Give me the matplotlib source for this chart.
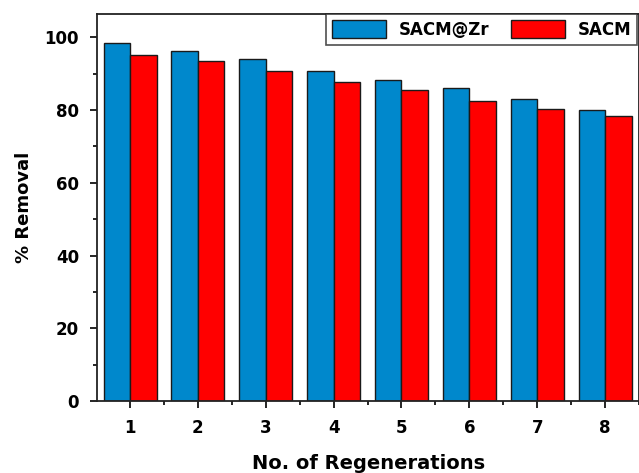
import numpy as np
import matplotlib.pyplot as plt
from matplotlib.ticker import MultipleLocator

# Regeneration cycles and removal efficiency (%)
cycles = [1, 2, 3, 4, 5, 6, 7, 8]
sacm_zr = [98.4, 96.3, 93.9, 90.7, 88.3, 85.9, 83.0, 79.9]
sacm = [95.2, 93.4, 90.7, 87.7, 85.4, 82.4, 80.2, 78.2]

plt.rcParams['font.family'] = ['DejaVu Sans']
plt.rcParams['font.weight'] = 'bold'

fig = plt.figure(figsize=(6.39, 4.73), dpi=100)
ax = fig.add_axes([0.152, 0.152, 0.848, 0.818])

x = np.array(cycles)
w = 0.39
ax.bar(x - w / 2, sacm_zr, w, color='#0088CC', edgecolor='#1a1a1a', linewidth=1.0, label='SACM@Zr')
ax.bar(x + w / 2, sacm, w, color='#FF0000', edgecolor='#1a1a1a', linewidth=1.0, label='SACM')

ax.set_xlim(0.515, 8.5)
ax.set_ylim(0, 106.3)
ax.set_xticks(cycles)
ax.xaxis.set_minor_locator(MultipleLocator(0.5))
ax.yaxis.set_major_locator(MultipleLocator(20))
ax.yaxis.set_minor_locator(MultipleLocator(10))
ax.tick_params(which='major', direction='out', length=5, width=1.2, labelsize=12, pad=8)
ax.tick_params(which='minor', direction='out', length=3, width=1.2)
for lab in ax.get_xticklabels() + ax.get_yticklabels():
    lab.set_fontweight('bold')
for s in ax.spines.values():
    s.set_linewidth(1.3)
    s.set_color('#222222')

ax.set_xlabel('No. of Regenerations', fontsize=14, fontweight='bold', labelpad=12)
ax.set_ylabel('% Removal', fontsize=13, fontweight='bold', labelpad=8)

leg = ax.legend(loc='upper right', ncol=2, fontsize=12, frameon=True, fancybox=False,
                edgecolor='#222222', handlelength=3.2, handleheight=1.3,
                columnspacing=1.3, borderaxespad=0.0, borderpad=0.35,
                bbox_to_anchor=(0.997, 1.0))
leg.get_frame().set_linewidth(1.2)
for t in leg.get_texts():
    t.set_fontweight('bold')

fig.savefig('out.png', dpi=100)
